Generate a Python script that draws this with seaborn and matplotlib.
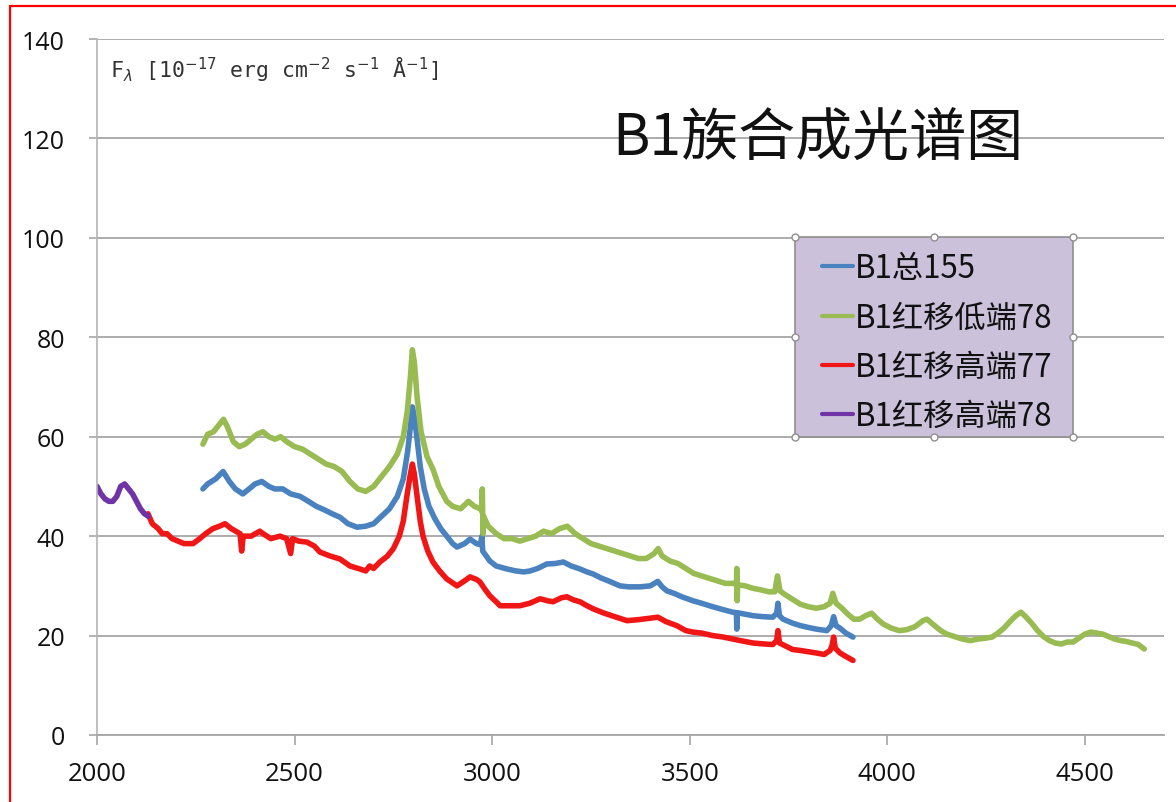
import matplotlib
matplotlib.use("Agg")
import matplotlib.pyplot as plt
from matplotlib.lines import Line2D
from matplotlib.patches import Rectangle
from matplotlib.font_manager import FontProperties
import seaborn as sns
import pandas as pd

# ---- spectra (wavelength in Å, flux in 1e-17 erg/cm2/s/Å) ----
wl_total = [2268, 2280, 2300, 2319, 2335, 2350, 2369, 2385, 2400, 2417, 2435, 2450,
            2470, 2490, 2514, 2535, 2555, 2575, 2595, 2615, 2635, 2658, 2680, 2700,
            2720, 2740, 2760, 2775, 2786, 2793, 2798, 2803, 2810, 2818, 2828, 2840,
            2855, 2870, 2885, 2900, 2911, 2930, 2944, 2960, 2970, 2974, 2976, 2985,
            2994, 3010, 3037, 3060, 3080, 3096, 3115, 3138, 3160, 3180, 3200, 3222,
            3240, 3255, 3275, 3300, 3323, 3345, 3374, 3400, 3419, 3430, 3442, 3460,
            3480, 3508, 3530, 3558, 3585, 3609, 3618, 3619, 3620, 3640, 3660, 3685,
            3710, 3720, 3723, 3727, 3736, 3760, 3780, 3796, 3820, 3847, 3858, 3864,
            3870, 3880, 3895, 3913]
fx_total = [49.5, 50.5, 51.5, 53.0, 51.0, 49.5, 48.5, 49.5, 50.5, 51.0, 50.0, 49.5,
            49.5, 48.5, 48.0, 47.0, 46.0, 45.3, 44.5, 43.8, 42.5, 41.8, 42.0, 42.5,
            44.0, 45.5, 48.0, 51.5, 57.0, 62.0, 66.0, 64.0, 59.5, 54.0, 49.5, 46.0,
            43.5, 41.5, 40.0, 38.5, 37.8, 38.5, 39.4, 38.5, 38.3, 40.0, 37.0, 36.0,
            35.0, 34.0, 33.4, 33.0, 32.8, 33.0, 33.5, 34.4, 34.5, 34.8, 34.0, 33.4,
            32.8, 32.4, 31.6, 30.8, 30.0, 29.8, 29.8, 30.0, 30.9, 29.8, 29.0, 28.5,
            27.8, 27.0, 26.5, 25.8, 25.2, 24.7, 24.6, 21.3, 24.6, 24.3, 24.0, 23.8,
            23.7, 24.5, 26.5, 24.0, 23.3, 22.5, 22.0, 21.7, 21.3, 21.0, 22.0, 23.8,
            22.0, 21.5, 20.5, 19.7]

wl_low = [2268, 2280, 2295, 2310, 2320, 2330, 2345, 2360, 2375, 2390, 2405, 2420,
          2435, 2450, 2465, 2480, 2500, 2520, 2540, 2560, 2580, 2600, 2620, 2640,
          2660, 2680, 2700, 2720, 2740, 2760, 2775, 2785, 2793, 2798, 2803, 2810,
          2820, 2835, 2850, 2865, 2885, 2900, 2920, 2940, 2955, 2970, 2974, 2975,
          2976, 2977, 2978, 2990, 3010, 3030, 3050, 3070, 3090, 3110, 3130, 3150,
          3170, 3190, 3210, 3230, 3250, 3270, 3290, 3310, 3330, 3350, 3370, 3390,
          3410, 3420, 3430, 3450, 3470, 3490, 3510, 3530, 3550, 3570, 3590, 3610,
          3618, 3619, 3620, 3621, 3640, 3660, 3680, 3700, 3715, 3722, 3728, 3740,
          3760, 3780, 3800, 3820, 3840, 3855, 3862, 3870, 3885, 3900, 3915, 3930,
          3945, 3960, 3975, 3990, 4010, 4030, 4050, 4070, 4090, 4100, 4115, 4135,
          4150, 4170, 4190, 4210, 4230, 4250, 4265, 4280, 4295, 4310, 4325, 4338,
          4350, 4365, 4380, 4395, 4410, 4425, 4440, 4455, 4470, 4485, 4500, 4515,
          4530, 4545, 4560, 4575, 4590, 4605, 4620, 4635, 4650]
fx_low = [58.5, 60.5, 61.0, 62.5, 63.5, 62.0, 59.0, 58.0, 58.5, 59.5, 60.5, 61.0,
          60.0, 59.5, 60.0, 59.0, 58.0, 57.5, 56.5, 55.5, 54.5, 54.0, 53.0, 51.0,
          49.5, 49.0, 50.0, 52.0, 54.0, 56.5, 60.0, 65.0, 72.0, 77.5, 75.0, 68.0,
          61.0, 56.0, 53.5, 50.0, 47.0, 46.0, 45.5, 47.0, 46.0, 45.5, 45.0, 49.5,
          44.0, 40.5, 44.0, 42.0, 40.5, 39.5, 39.5, 39.0, 39.5, 40.0, 41.0, 40.5,
          41.5, 42.0, 40.5, 39.5, 38.5, 38.0, 37.5, 37.0, 36.5, 36.0, 35.5, 35.5,
          36.5, 37.5, 36.0, 35.0, 34.5, 33.5, 32.5, 32.0, 31.5, 31.0, 30.5, 30.5,
          30.3, 33.5, 27.0, 30.2, 30.0, 29.5, 29.2, 28.8, 28.8, 32.0, 29.0, 28.3,
          27.3, 26.3, 25.8, 25.5, 25.8, 26.5, 28.5, 26.5, 25.5, 24.3, 23.3, 23.3,
          24.0, 24.5, 23.3, 22.3, 21.5, 21.0, 21.2, 21.8, 23.0, 23.3, 22.3, 21.0,
          20.3, 19.8, 19.3, 19.0, 19.3, 19.5, 19.7, 20.5, 21.5, 22.8, 24.0, 24.7,
          23.8, 22.5, 21.0, 19.8, 19.0, 18.5, 18.3, 18.7, 18.7, 19.5, 20.3, 20.7,
          20.5, 20.3, 19.8, 19.3, 19.0, 18.8, 18.5, 18.2, 17.3]

wl_high77 = [2129, 2140, 2155, 2165, 2177, 2190, 2205, 2220, 2243, 2260, 2275, 2293,
             2310, 2324, 2340, 2362, 2366, 2370, 2390, 2412, 2420, 2440, 2463, 2480,
             2490, 2495, 2510, 2531, 2550, 2564, 2590, 2615, 2640, 2665, 2680, 2690,
             2700, 2716, 2735, 2750, 2765, 2775, 2785, 2792, 2798, 2803, 2810, 2818,
             2825, 2837, 2850, 2867, 2885, 2911, 2930, 2944, 2960, 2969, 2980, 2994,
             3010, 3020, 3045, 3070, 3095, 3121, 3140, 3154, 3175, 3189, 3205, 3222,
             3240, 3255, 3280, 3310, 3341, 3370, 3400, 3419, 3440, 3467, 3490, 3508,
             3530, 3558, 3585, 3609, 3627, 3660, 3690, 3710, 3720, 3723, 3727, 3740,
             3760, 3780, 3796, 3820, 3840, 3855, 3860, 3864, 3868, 3880, 3895, 3913]
fx_high77 = [44.5, 42.5, 41.5, 40.5, 40.5, 39.5, 39.0, 38.5, 38.5, 39.5, 40.5, 41.5,
             42.0, 42.5, 41.5, 40.5, 37.0, 40.0, 40.0, 41.0, 40.5, 39.5, 40.0, 39.5,
             36.5, 39.5, 39.0, 38.8, 38.0, 36.8, 36.0, 35.4, 34.0, 33.4, 33.0, 34.0,
             33.5, 34.8, 36.0, 37.5, 40.0, 43.0, 48.5, 52.0, 54.5, 52.5, 48.0, 43.0,
             40.0, 37.0, 34.8, 33.0, 31.4, 30.0, 31.0, 31.8, 31.3, 30.8, 29.5, 28.0,
             26.8, 26.0, 26.0, 26.0, 26.5, 27.4, 27.0, 26.8, 27.6, 27.8, 27.2, 26.8,
             26.0, 25.4, 24.6, 23.8, 23.0, 23.2, 23.5, 23.7, 22.8, 22.0, 21.0, 20.7,
             20.5, 20.0, 19.7, 19.3, 19.0, 18.5, 18.3, 18.2, 19.0, 21.0, 18.5, 18.0,
             17.2, 17.0, 16.8, 16.5, 16.2, 17.0, 18.0, 19.7, 17.5, 16.5, 15.8, 15.0]

wl_high78 = [2000, 2010, 2020, 2030, 2040, 2050, 2060, 2070, 2080, 2090, 2100, 2110,
             2120, 2130]
fx_high78 = [50.0, 48.5, 47.5, 47.0, 47.0, 48.0, 50.0, 50.5, 49.5, 48.5, 47.0, 45.5,
             44.5, 44.0]

series_names = ["B1总155", "B1红移低端78", "B1红移高端77", "B1红移高端78"]
series_colors = ["#4a82c0", "#98bb52", "#f01616", "#7034a6"]

x_ticks = [2000, 2500, 3000, 3500, 4000, 4500]
y_ticks = [0, 20, 40, 60, 80, 100, 120, 140]

title_text = "B1族合成光谱图"
flux_label = r"F$_\lambda$ [10$^{-17}$ erg cm$^{-2}$ s$^{-1}$ Å$^{-1}$]"

frames = []
for name, wl, fx in zip(series_names,
                        [wl_total, wl_low, wl_high77, wl_high78],
                        [fx_total, fx_low, fx_high77, fx_high78]):
    frames.append(pd.DataFrame({"wavelength": wl, "flux": fx, "series": name}))
spectra = pd.concat(frames, ignore_index=True)

sns.set_style("white")
plt.rcParams["font.family"] = ["Open Sans", "Noto Sans CJK SC", "DejaVu Sans"]

fig = plt.figure(figsize=(11.76, 8.03), dpi=100)
ax = fig.add_axes([97 / 1176, 1 - 736 / 803, 1067 / 1176, 696 / 803])

grid_c = "#a6a6a6"
for name, color in zip(series_names, series_colors):
    sub = spectra[spectra["series"] == name]
    sns.lineplot(data=sub, x="wavelength", y="flux", color=color, linewidth=4.0,
                 estimator=None, sort=False, ax=ax, label=name, zorder=2)

ax.set_xlim(2000, 4700)
ax.set_ylim(0, 140)
ax.set_xticks(x_ticks)
ax.set_yticks(y_ticks)
ax.set_xlabel("")
ax.set_ylabel("")
ax.yaxis.grid(True, color=grid_c, linewidth=1.3)
ax.xaxis.grid(False)
ax.set_axisbelow(True)
for side in ["top", "right"]:
    ax.spines[side].set_visible(False)
ax.spines["left"].set_color("#b4b4b4")
ax.spines["left"].set_linewidth(1.2)
ax.spines["bottom"].set_color(grid_c)
ax.spines["bottom"].set_linewidth(1.3)
ax.tick_params(axis="y", length=6, width=1.2, color=grid_c, pad=17,
               labelsize=18, labelcolor="#111111", left=True)
ax.tick_params(axis="x", length=7, width=1.2, color=grid_c, pad=12,
               labelsize=18.5, labelcolor="#111111", bottom=True, direction="out")

# legend panel
lx0, ly0, lw, lh = 0.654, 0.428, 0.261, 0.2875
ax.add_patch(Rectangle((lx0, ly0), lw, lh, transform=ax.transAxes,
                       facecolor="#cbc1da", edgecolor="#8f8f8f", linewidth=1.2,
                       zorder=4))
hx = [lx0, lx0 + lw / 2, lx0 + lw, lx0, lx0 + lw, lx0, lx0 + lw / 2, lx0 + lw]
hy = [ly0 + lh, ly0 + lh, ly0 + lh, ly0 + lh / 2, ly0 + lh / 2, ly0, ly0, ly0]
ax.plot(hx, hy, linestyle="none", marker="o", markersize=5,
        markerfacecolor="white", markeredgecolor="#8f8f8f", markeredgewidth=1,
        transform=ax.transAxes, clip_on=False, zorder=6)

handles = [Line2D([0], [0], color=c, linewidth=3) for c in series_colors]
leg = ax.legend(handles, series_names, loc="upper left",
                bbox_to_anchor=(lx0 + 0.002, ly0 + lh + 0.014),
                frameon=False, prop=FontProperties(family="Noto Sans CJK SC", size=22.5),
                handlelength=1.0, handletextpad=0.05, labelspacing=0.55,
                borderpad=0.3)
leg.set_zorder(7)
for t in leg.get_texts():
    t.set_color("#111111")

ax.text(0.012, 0.957, flux_label, transform=ax.transAxes, fontsize=15.5,
        family="DejaVu Sans Mono", color="#333333", va="center", ha="left")

fig.text(818 / 1176, 1 - 140 / 803, title_text, ha="center", va="center",
         fontsize=41, family="Noto Sans CJK SC", color="#111111")

# red frame around the figure
fig.add_artist(Line2D([10 / 1176, 1.0], [1 - 7 / 803, 1 - 7 / 803],
                      color="#ff0000", linewidth=1.6, transform=fig.transFigure))
fig.add_artist(Line2D([10 / 1176, 10 / 1176], [0.0, 1 - 7 / 803],
                      color="#ff0000", linewidth=1.6, transform=fig.transFigure))

fig.savefig("out.png", dpi=100)
